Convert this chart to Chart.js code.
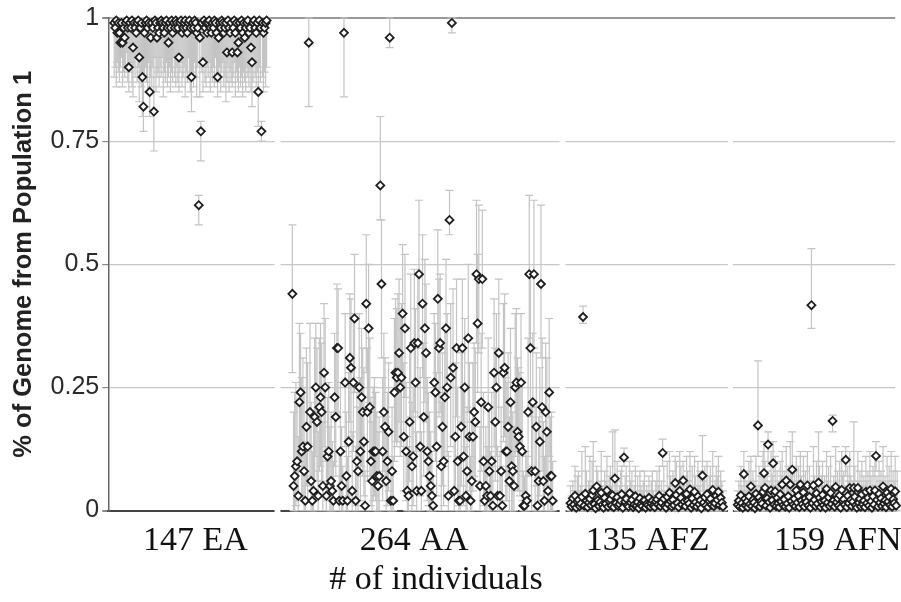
<!DOCTYPE html>
<html>
<head>
<meta charset="utf-8">
<script src="https://cdn.jsdelivr.net/npm/chart.js@4.4.0/dist/chart.umd.min.js"></script>
<style>
  html, body { margin: 0; padding: 0; background: #fff; }
  #wrap { width: 901px; height: 602px; position: relative; }
</style>
</head>
<body>
<div id="wrap"><canvas id="chart"></canvas></div>
<script>
// values in % of genome; lo/hi = error bar ends
const groupLabels = ['147 EA', '264 AA', '135 AFZ', '159 AFN'];
const yTicks = [0, 0.25, 0.5, 0.75, 1];

const eaVals = [
  99,98,99.5,97,99,97,95,99,95,98,96,99,99.5,98,90,
  99,98,99.5,94,99,98,97,99,99.5,92,98,99,88,82,97,
  99,99.5,98,99,85,96,99,98,81,99.5,99,96,98,97,99,
  99.5,99,98,97,99,99.5,98,95,99,98,99.5,97,99,98,99.5,
  99,98,92,99,99.5,97,98,99,99.5,98,97,99,99.5,98,88,
  99,98,99.5,99,97,98,62,96,77,99,91,99.5,98,99,97,
  99,99.5,98,97,99,98,99.5,99,97,88,96,99,98,99.5,99,
  97,98,99,93,99.5,98,97,99,93,98,99.5,97,99,93,95,
  99,98,99.5,97,99,96,98,99,99.5,97,98,94,91,99,99.5,
  98,97,99,85,99.5,98,77,99,97,98,99,99.5
];
const eaLo = [
  88,90,86,91,89,87,90,92,86,89,88,90,93,87,85,
  89,91,86,84,90,88,92,87,90,83,89,86,80,77,88,
  90,87,85,91,80,88,86,90,73,92,85,88,89,86,90,
  88,92,84,89,87,91,86,88,90,85,89,87,92,88,86,
  90,87,85,89,91,86,88,90,84,89,87,92,88,85,81,
  89,86,91,88,84,90,58,84,71,89,85,92,87,86,90,
  88,91,85,89,87,90,86,92,88,84,87,90,85,89,91,
  86,88,83,87,90,85,89,87,86,88,91,84,89,87,85,
  90,86,88,84,89,87,85,90,88,86,89,85,82,87,91,
  88,86,89,78,90,87,75,88,85,89,86,90
];
const eaHi = [
  100,100,100,100,100,100,100,100,100,100,100,100,100,100,100,
  100,100,100,100,100,100,100,100,100,100,100,100,100,100,100,
  100,100,100,100,100,100,100,100,100,100,100,100,100,100,100,
  100,100,100,100,100,100,100,100,100,100,100,100,100,100,100,
  100,100,100,100,100,100,100,100,100,100,100,100,100,100,100,
  100,100,100,100,100,100,64,100,79,100,100,100,100,100,100,
  100,100,100,100,100,100,100,100,100,100,100,100,100,100,100,
  100,100,100,100,100,100,100,100,100,100,100,100,100,100,100,
  100,100,100,100,100,100,100,100,100,100,100,100,100,100,100,
  100,100,100,100,100,100,79,100,100,100,100,100
];

const aaVals = [
  44,5,7,9,10,3,22,24,12,13,8,2,17,13,
  95,
  20,6,2,4,19,25,18,3,21,23,20,5,28,25,3,11,12,5,6,4,2,23,19,33,33,2,12,5,2,
  97,
  26,7,2,14,31,29,4,26,39,2,10,8,25,12,23,20,14,1,42,20,37,21,10,6,12,12,12,7,5,7,66,46,12,20,17,6,10,16,
  96,
  2,8,2,24,28,27,28,32,25,27,40,15,37,12,4,3,18,33,9,11,34,26,4,34,48,13,4,42,19,37,32,
  12,10,7,5,3,1,26,24,13,43,33,34,9,17,10,23,37,25,3,59,27,
  99,
  29,4,15,33,10,2,2,17,33,11,25,3,8,35,15,2,6,15,20,18,48,38,47,5,22,47,10,2,5,3,
  21,8,3,10,1,28,18,25,3,32,3,8,1,28,29,12,12,17,6,22,9,8,5,25,26,16,15,13,26,12,
  1,1,3,2,20,48,33,8,22,48,8,17,1,6,14,46,21,6,2,20,16,4,24,7,7,2
];
const aaLo = [
  28,0,0,1,2,0,8,10,3,2,0,0,5,2,
  82,
  7,0,0,0,6,11,6,0,8,9,6,0,13,10,0,2,3,0,0,0,0,9,7,20,19,0,2,0,0,
  84,
  13,0,0,3,18,15,0,12,24,0,1,0,11,2,9,7,3,0,28,6,22,7,1,0,2,3,2,0,0,0,59,31,2,8,5,0,1,4,
  94,
  0,0,0,10,14,13,14,18,11,13,25,4,23,2,0,0,6,19,0,1,20,12,0,19,33,3,0,27,7,22,18,
  2,1,0,0,0,0,12,10,3,28,19,20,0,5,1,9,23,11,0,56,13,
  97,
  15,0,4,19,1,0,0,5,18,1,11,0,0,20,4,0,0,4,7,6,34,24,32,0,8,33,1,0,0,0,
  7,0,0,1,0,13,6,11,0,18,0,0,0,14,15,2,2,5,0,9,0,0,0,11,12,4,4,3,12,2,
  0,0,0,0,7,33,19,0,9,33,0,5,0,0,3,31,8,0,0,7,5,0,11,0,0,0
];
const aaHi = [
  58,20,24,26,22,15,38,36,27,31,25,14,33,30,
  100,
  38,22,12,18,35,38,33,16,35,38,34,18,42,39,12,23,26,17,20,14,10,36,33,46,45,12,26,17,9,
  100,
  40,20,11,28,44,43,16,40,52,13,24,21,40,27,37,33,29,8,56,33,50,35,23,18,25,27,24,20,16,19,80,59,27,36,31,19,24,30,
  100,
  10,21,11,39,43,41,44,47,40,42,54,30,52,26,15,13,33,48,22,25,49,41,16,48,63,29,16,56,34,51,46,
  27,24,20,16,12,7,40,38,28,57,47,48,22,32,24,37,51,40,12,65,42,
  100,
  45,15,30,47,25,11,10,32,47,25,39,13,21,50,30,11,18,30,34,33,63,52,62,17,36,61,24,11,17,13,
  35,21,12,24,9,43,33,40,13,47,12,21,9,42,44,27,26,32,19,37,22,20,17,40,41,31,29,28,40,26,
  8,7,12,11,35,64,48,21,36,63,21,32,8,19,29,62,35,18,11,34,31,16,39,19,20,10
];

const afzVals = [
  1.5,0.8,2.5,1.2,3.0,0.6,1.8,2.2,0.9,1.4,2.8,39.3,1.0,3.4,2.0,
  0.7,1.6,2.4,1.1,3.2,4.1,1.3,0.5,4.9,2.1,0.9,1.7,3.6,1.2,0.6,
  2.6,1.4,4.1,0.8,1.9,2.3,1.0,3.1,0.7,6.5,1.5,2.7,0.9,1.3,2.0,
  3.3,0.6,10.8,1.8,2.4,1.1,0.8,3.5,1.6,2.2,0.7,1.2,2.9,1.0,1.7,
  0.5,2.5,1.3,0.9,1.9,2.1,0.6,1.4,1.1,2.6,0.8,1.5,2.0,1.0,0.7,
  1.8,2.3,1.2,3.0,0.9,1.6,11.7,2.4,1.0,0.6,2.8,1.3,3.6,1.9,0.8,
  2.2,1.1,5.6,3.2,1.5,0.7,4.0,2.6,1.2,6.1,1.8,0.9,3.4,2.0,1.4,
  4.3,0.6,2.5,1.1,3.8,1.7,0.8,2.9,1.3,2.1,0.5,7.1,1.6,2.7,1.0,
  3.3,0.7,1.9,2.4,1.2,4.2,0.9,1.5,3.0,2.2,3.8,1.1,2.6,1.6,0.8
];
const afzLo = [
  0,0,0,0,0,0,0,0,0,0,0,38,0,1,0,
  0,0,0,0,0,1,0,0,2,0,0,0,0,0,0,
  0,0,1,0,0,0,0,0,0,3,0,0,0,0,0,
  0,0,9,0,0,0,0,0,0,0,0,0,0,0,0,
  0,0,0,0,0,0,0,0,0,0,0,0,0,0,0,
  0,0,0,0,0,0,9,0,0,0,0,0,1,0,0,
  0,0,3,1,0,0,1,0,0,3,0,0,0,0,0,
  1,0,0,0,1,0,0,0,0,0,0,4,0,0,0,
  0,0,0,0,0,1,0,0,0,0,1,0,0,0,0
];
const afzHi = [
  5,3,6,4,9,3,7,8,4,5,12,41.5,4,13,8,
  3,6,11,5,10,14,5,3,9,8,4,6,12,5,3,
  8,6,11,4,7,9,5,16,3,16.4,6,10,4,5,8,
  9,3,12.7,7,9,5,4,10,6,8,3,5,9,4,7,
  3,8,5,4,6,8,3,5,4,7,3,6,8,4,3,
  6,8,5,9,4,6,14.5,9,4,3,10,5,12,7,4,
  8,5,11,10,6,4,12,9,5,10,7,4,11,8,6,
  12,3,9,5,11,7,4,10,5,8,3,15.2,6,9,4,
  10,3,7,9,5,12,4,6,9,7,11,5,8,6,4
];

const afnVals = [
  1.2,2.0,0.8,3.1,1.5,0.6,7.4,2.4,1.0,1.8,0.7,2.9,1.3,4.9,0.9,
  2.2,1.6,0.5,3.4,1.1,17.3,2.7,0.8,1.9,1.4,3.8,7.6,4.6,1.0,2.5,
  13.4,1.7,0.6,4.1,2.1,9.6,1.2,3.9,0.9,2.6,1.5,0.7,3.3,1.8,5.3,
  1.1,2.3,0.8,6.1,1.4,2.9,0.6,5.3,1.9,8.3,1.2,2.4,0.9,4.1,1.6,
  3.0,0.7,5.3,2.0,1.3,3.7,0.8,2.5,1.7,5.1,1.0,2.8,0.6,41.7,1.5,
  5.1,2.2,0.9,3.5,1.4,5.7,2.6,0.7,1.8,3.2,1.1,2.0,0.6,4.4,1.6,
  2.7,0.9,3.6,1.3,18.2,2.1,0.8,4.8,1.7,2.5,1.0,3.1,0.6,4.2,1.9,
  2.3,1.2,10.3,0.7,3.0,1.5,4.6,2.2,0.9,1.8,4.6,2.8,1.1,0.6,4.6,
  1.6,2.4,0.8,3.3,1.3,2.0,0.7,3.8,1.5,2.6,1.0,4.1,1.9,0.6,2.9,
  1.2,4.1,11.1,2.2,0.8,3.4,1.6,2.5,0.9,4.9,1.4,2.1,0.7,3.6,1.8,
  2.8,1.1,4.4,0.8,2.3,1.5,3.9,1.0,2.6
];
const afnLo = [
  0,0,0,0,0,0,3,0,0,0,0,0,0,1,0,
  0,0,0,0,0,11,0,0,0,0,0,3,1,0,0,
  9,0,0,0,0,5,0,0,0,0,0,0,0,0,1,
  0,0,0,2,0,0,0,1,0,4,0,0,0,0,0,
  0,0,1,0,0,0,0,0,0,1,0,0,0,37,0,
  1,0,0,0,0,1,0,0,0,0,0,0,0,0,0,
  0,0,0,0,16,0,0,1,0,0,0,0,0,0,0,
  0,0,7,0,0,0,1,0,0,0,1,0,0,0,1,
  0,0,0,0,0,0,0,0,0,0,0,0,0,0,0,
  0,0,8,0,0,0,0,0,0,1,0,0,0,0,0,
  0,0,0,0,0,0,0,0,0
];
const afnHi = [
  4,6,3,9,5,3,12,8,4,6,3,10,5,11,4,
  8,6,3,11,5,30.4,9,3,7,5,12,14,10,4,8,
  16,6,3,12,7,14,5,11,4,8,6,3,10,7,12,
  5,8,3,13,5,9,3,14,7,16,5,8,4,11,6,
  9,3,12,7,5,11,3,8,6,12,4,9,3,53.2,6,
  13,7,4,10,5,16,9,3,7,10,5,7,3,12,6,
  9,4,11,5,19.4,7,3,13,6,8,4,10,3,12,7,
  8,5,13,3,9,6,12,7,4,6,18,9,5,3,12,
  6,8,3,10,5,7,3,11,6,8,4,12,7,3,9,
  5,11,14,7,3,10,6,8,4,13,5,7,3,11,6,
  9,5,12,3,8,6,11,4,8
];

// layout of the x axis (units ~ pixels from the y axis)
const xMax = 795;
const groupSpan = [[6, 160], [186, 449], [467, 621], [636, 797]];
const labelAt = [88, 309, 545, 737];
const gapBands = [[168, 174], [456, 462], [626, 631]];
const xTitleAt = 331;

function buildPoints(vals, lo, hi, span) {
  const step = (span[1] - span[0]) / (vals.length - 1);
  return vals.map((v, i) => ({ x: span[0] + i * step, y: v / 100, lo: lo[i] / 100, hi: hi[i] / 100 }));
}

const series = [
  [eaVals, eaLo, eaHi],
  [aaVals, aaLo, aaHi],
  [afzVals, afzLo, afzHi],
  [afnVals, afnLo, afnHi]
];

const datasets = series.map((s, i) => ({
  label: groupLabels[i],
  data: buildPoints(s[0], s[1], s[2], groupSpan[i]),
  pointStyle: 'rectRot',
  pointRadius: 4,
  pointBorderWidth: 1.8,
  borderColor: '#1e1e1e',
  backgroundColor: '#fff',
  showLine: false,
  clip: false
}));

const errorBars = {
  id: 'errorBars',
  beforeDatasetsDraw(chart) {
    const { ctx, chartArea: a, scales: { x, y } } = chart;
    ctx.save();
    // white breaks between the groups
    ctx.fillStyle = '#fff';
    gapBands.forEach(([s, e]) => {
      const x0 = x.getPixelForValue(s), x1 = x.getPixelForValue(e);
      ctx.fillRect(x0, a.top + 2, x1 - x0, a.bottom - a.top + 4);
    });
    ctx.strokeStyle = '#c4c4c4';
    ctx.lineWidth = 1.2;
    chart.data.datasets.forEach(ds => ds.data.forEach(p => {
      const px = x.getPixelForValue(p.x);
      const yl = y.getPixelForValue(p.lo), yh = y.getPixelForValue(p.hi);
      ctx.beginPath();
      ctx.moveTo(px, yl); ctx.lineTo(px, yh);
      ctx.moveTo(px - 4, yl); ctx.lineTo(px + 4, yl);
      ctx.moveTo(px - 4, yh); ctx.lineTo(px + 4, yh);
      ctx.stroke();
    }));
    ctx.restore();
  },
  afterDraw(chart) {
    const { ctx, scales: { x } } = chart;
    ctx.save();
    ctx.font = '34px "Liberation Serif"';
    ctx.fillStyle = '#111';
    ctx.textAlign = 'center';
    ctx.textBaseline = 'middle';
    ctx.fillText('# of individuals', x.getPixelForValue(xTitleAt), 580);
    ctx.restore();
  }
};

new Chart(document.getElementById('chart'), {
  type: 'scatter',
  data: { datasets },
  plugins: [errorBars],
  options: {
    animation: false,
    responsive: true,
    maintainAspectRatio: false,
    events: [],
    layout: { padding: { left: 9, top: 17, right: 0, bottom: 30 } },
    plugins: { legend: { display: false }, tooltip: { enabled: false } },
    scales: {
      x: {
        type: 'linear',
        min: 0,
        max: xMax,
        afterBuildTicks: s => { s.ticks = labelAt.map(v => ({ value: v })); },
        afterFit: s => { s.paddingLeft = 0; s.paddingRight = 0; },
        grid: { display: false, drawTicks: false },
        border: { display: true, color: '#444', width: 2 },
        ticks: {
          autoSkip: false,
          maxRotation: 0,
          padding: 12,
          color: '#111',
          font: { family: 'Liberation Serif', size: 34, lineHeight: 1.1 },
          callback: (v, i) => groupLabels[i]
        }
      },
      y: {
        min: 0,
        max: 1,
        afterBuildTicks: s => { s.ticks = yTicks.map(v => ({ value: v })); },
        grid: {
          color: c => c.tick && c.tick.value === 1 ? '#9a9a9a' : (c.tick && c.tick.value === 0 ? '#444' : '#c8c8c8'),
          lineWidth: c => c.tick && (c.tick.value === 1 || c.tick.value === 0) ? 2 : 1.2,
          tickLength: 6,
          tickColor: '#888'
        },
        border: { color: '#666', width: 1.5 },
        ticks: {
          padding: 3,
          color: '#2a2a2a',
          font: { family: 'Liberation Sans', size: 25 },
          callback: v => String(v)
        },
        title: {
          display: true,
          text: '% of Genome from Population 1',
          color: '#222',
          font: { family: 'Liberation Sans', size: 25.5, weight: 'bold' },
          padding: { top: 0, bottom: 8 }
        }
      }
    }
  }
});
</script>
</body>
</html>
